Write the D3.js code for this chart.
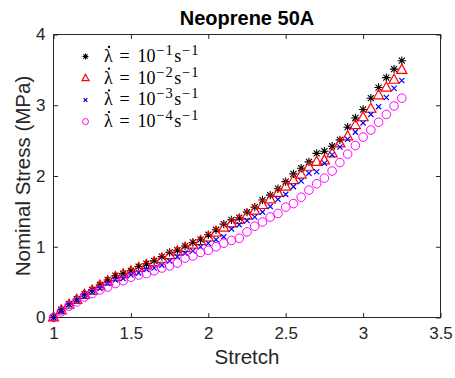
<!DOCTYPE html>
<html>
<head>
<meta charset="utf-8">
<script src="https://cdn.jsdelivr.net/npm/d3@7"></script>
<style>
  body { margin: 0; background: #fff; }
  svg { display: block; font-family: "Liberation Sans", Arial, sans-serif; }
  .axis text { font-size: 17px; fill: #262626; }
  .axis line { stroke: #262626; }
</style>
</head>
<body>
<div id="chart"></div>
<script>
const width = 455
const height = 378

const margin = { top: 34.5, bottom: 60.5, left: 53.5, right: 14.5 }

// stretch values (x)
const stretch = [1.00,1.05,1.10,1.15,1.20,1.25,1.30,1.35,1.40,1.45,1.50,1.55,1.60,1.65,1.70,1.75,1.80,1.85,1.90,1.95,
  2.00,2.05,2.10,2.15,2.20,2.25,2.30,2.35,2.40,2.45,2.50,2.55,2.60,2.65,2.70,2.75,2.80,2.85,2.90,2.95,
  3.00,3.05,3.10,3.15,3.20,3.25]

// nominal stress (MPa) for each strain rate
const rate1 = [0.00,0.11,0.19,0.26,0.33,0.39,0.46,0.53,0.59,0.62,0.66,0.72,0.76,0.80,0.86,0.92,0.95,1.01,1.06,1.10,
  1.17,1.24,1.32,1.38,1.41,1.49,1.56,1.66,1.73,1.82,1.92,2.03,2.11,2.20,2.32,2.35,2.42,2.51,2.69,2.82,
  2.94,3.10,3.25,3.39,3.51,3.63]
const rate2 = [0.00,0.10,0.18,0.25,0.32,0.38,0.45,0.51,0.57,0.61,0.65,0.70,0.74,0.78,0.83,0.88,0.93,0.98,1.03,1.08,
  1.13,1.20,1.27,1.33,1.38,1.44,1.51,1.59,1.67,1.76,1.85,1.94,2.02,2.13,2.20,2.22,2.32,2.46,2.56,2.72,
  2.83,2.95,3.14,3.25,3.36,3.50]
const rate3 = [0.00,0.09,0.18,0.24,0.30,0.36,0.41,0.48,0.53,0.55,0.60,0.63,0.68,0.70,0.74,0.80,0.86,0.91,0.94,1.00,
  1.05,1.10,1.14,1.25,1.31,1.37,1.42,1.49,1.57,1.67,1.74,1.85,1.93,2.04,2.06,2.18,2.30,2.41,2.52,2.62,
  2.75,2.87,2.98,3.11,3.24,3.35]
const rate4 = [0.00,0.08,0.16,0.22,0.29,0.34,0.39,0.43,0.48,0.52,0.57,0.60,0.62,0.66,0.70,0.73,0.77,0.84,0.87,0.92,
  0.95,1.00,1.05,1.09,1.12,1.21,1.29,1.35,1.42,1.47,1.56,1.61,1.70,1.80,1.89,1.97,2.07,2.19,2.31,2.43,
  2.55,2.65,2.76,2.87,2.99,3.10]

const exponents = ["\u22121", "\u22122", "\u22123", "\u22124"]
const xTicks = [1, 1.5, 2, 2.5, 3, 3.5]
const yTicks = [0, 1, 2, 3, 4]

const series = [
  { values: rate1, exp: exponents[0], marker: "star", color: "#000000" },
  { values: rate2, exp: exponents[1], marker: "triangle", color: "#ff0000" },
  { values: rate3, exp: exponents[2], marker: "cross", color: "#0000ff" },
  { values: rate4, exp: exponents[3], marker: "circle", color: "#ff00ff" }
]

const innerW = width - margin.left - margin.right
const innerH = height - margin.top - margin.bottom

const svg = d3.select("div#chart").append("svg").attr("width", width).attr("height", height)
const elementGroup = svg.append("g").attr("transform", `translate(${margin.left},${margin.top})`)

const x = d3.scaleLinear().domain([1, 3.5]).range([0, innerW])
const y = d3.scaleLinear().domain([0, 4]).range([innerH, 0])

// axes, ticks pointing inward on all four sides
const axisGroup = elementGroup.append("g")
const xAxisGroup = axisGroup.append("g").attr("class", "axis").attr("transform", `translate(0,${innerH})`)
  .call(d3.axisBottom(x).tickValues(xTicks).tickSize(-4.5).tickPadding(9).tickFormat(d3.format("")))
const yAxisGroup = axisGroup.append("g").attr("class", "axis")
  .call(d3.axisLeft(y).tickValues(yTicks).tickSize(-4.5).tickPadding(8).tickFormat(d3.format("")))
axisGroup.append("g").attr("class", "axis")
  .call(d3.axisTop(x).tickValues(xTicks).tickSize(-4.5).tickFormat(""))
axisGroup.append("g").attr("class", "axis").attr("transform", `translate(${innerW},0)`)
  .call(d3.axisRight(y).tickValues(yTicks).tickSize(-4.5).tickFormat(""))
axisGroup.selectAll(".domain").remove()
axisGroup.append("rect").attr("width", innerW).attr("height", innerH)
  .attr("fill", "none").attr("stroke", "#262626")

// markers
function drawMarker(g, type, color, s) {
  if (type === "star") {
    const r = 4.2 * s, d = r * 0.72
    g.append("path").attr("d", `M${-r},0H${r}M0,${-r}V${r}M${-d},${-d}L${d},${d}M${-d},${d}L${d},${-d}`)
      .attr("stroke", color).attr("stroke-width", 1.1).attr("fill", "none")
  } else if (type === "triangle") {
    const r = 5.6 * s
    g.append("path").attr("d", `M0,${-r}L${r * 0.9},${r * 0.62}L${-r * 0.9},${r * 0.62}Z`)
      .attr("stroke", color).attr("stroke-width", 1.2).attr("fill", "none")
  } else if (type === "cross") {
    const r = 2.6 * s
    g.append("path").attr("d", `M${-r},${-r}L${r},${r}M${-r},${r}L${r},${-r}`)
      .attr("stroke", color).attr("stroke-width", 1.2).attr("fill", "none")
  } else {
    g.append("circle").attr("r", 4.3 * s)
      .attr("stroke", color).attr("stroke-width", 1).attr("fill", "none")
  }
}

const plotGroup = elementGroup.append("g")
series.forEach(sr => {
  const pts = plotGroup.append("g").selectAll("g").data(sr.values).enter().append("g")
    .attr("transform", (d, i) => `translate(${x(stretch[i])},${y(d)})`)
  pts.each(function () { drawMarker(d3.select(this), sr.marker, sr.color, 1) })
})

// legend
const legend = elementGroup.append("g").attr("transform", "translate(32,22)")
series.forEach((sr, i) => {
  const row = legend.append("g").attr("transform", `translate(0,${i * 21.7})`)
  drawMarker(row.append("g"), sr.marker, sr.color, 0.7)
  const t = row.append("text").attr("y", 5.5)
    .style("font-family", "'Liberation Serif', 'DejaVu Serif', serif").style("font-size", "18px").attr("fill", "#000")
  t.append("tspan").attr("x", 18.5).text("\u03bb")
  t.append("tspan").attr("x", 34).text("=")
  t.append("tspan").attr("x", 52).text("10")
  t.append("tspan").attr("dx", 0.5).attr("y", -1.5).style("font-size", "14.5px").style("letter-spacing", "1.2px").text(sr.exp)
  t.append("tspan").attr("dx", 0.5).attr("y", 5.5).text("s")
  t.append("tspan").attr("dx", 0.5).attr("y", -1.5).style("font-size", "14.5px").style("letter-spacing", "1.2px").text("\u22121")
  row.append("circle").attr("cx", 23.5).attr("cy", -9.5).attr("r", 1.15).attr("fill", "#000")
})

// labels
svg.append("text").attr("x", margin.left + innerW / 2).attr("y", 25)
  .attr("text-anchor", "middle").style("font-weight", "bold").style("font-size", "20px").attr("fill", "#000")
  .text("Neoprene 50A")
svg.append("text").attr("x", margin.left + innerW / 2).attr("y", 364)
  .attr("text-anchor", "middle").style("font-size", "20.5px").attr("fill", "#262626")
  .text("Stretch")
svg.append("text").attr("transform", `translate(30,${margin.top + innerH / 2}) rotate(-90)`)
  .attr("text-anchor", "middle").style("font-size", "20.5px").attr("fill", "#262626")
  .text("Nominal Stress (MPa)")
</script>
</body>
</html>
